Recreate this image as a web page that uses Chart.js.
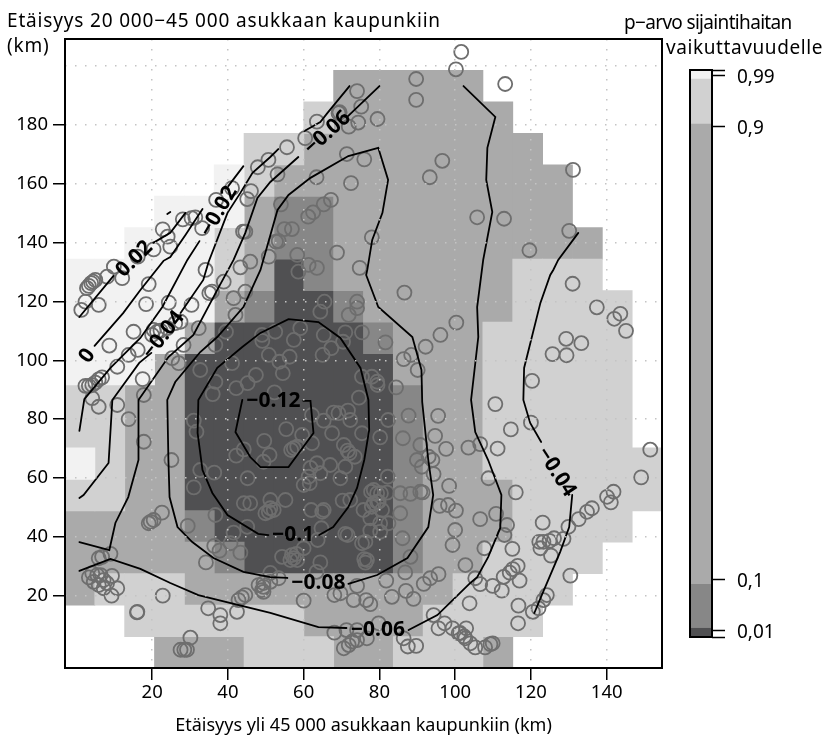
<!DOCTYPE html>
<html lang="fi">
<head>
<meta charset="UTF-8">
<title>p-arvo sijaintihaitan vaikuttavuudelle</title>
<script src="https://cdn.jsdelivr.net/npm/chart.js"></script>
<style>
  body { margin: 0; background: #fff; font-family: "Noto Sans", sans-serif; color: #000; }
  #page { position: relative; width: 830px; height: 735px; overflow: hidden; }
  canvas { position: absolute; top: 0; }
  .cap { position: absolute; font-size: 19px; line-height: 25px; white-space: nowrap; }
</style>
</head>
<body>
<div id="page">
  <canvas id="mapChart" width="830" height="735" style="left:0"></canvas>
  <canvas id="barChart" width="160" height="735" style="left:670px"></canvas>
  <div class="cap" style="left:7px;top:8px;letter-spacing:.83px">Etäisyys 20 000−45 000 asukkaan kaupunkiin<br>(km)</div>
  <div class="cap" style="left:624px;top:10px;letter-spacing:-.67px">p−arvo sijaintihaitan</div>
  <div class="cap" style="left:666px;top:35px;letter-spacing:.6px">vaikuttavuudelle</div>
</div>
<script>
// grid of the p-value map, row 0 is the top one. 0 = no cell, 1..5 = class in levelColors
const cellRows = [
  '00000000000000000000',
  '00000000033333000000',
  '00000000233333300000',
  '00000022333333330000',
  '00000123333333333000',
  '00011134433333333000',
  '00111234433333333300',
  '11111235433333322200',
  '11111345543333322220',
  '11113555554333222220',
  '11135555555333222220',
  '22335555555433222220',
  '22335555555433222220',
  '12335555555433222222',
  '22335555555433322222',
  '33334555555433322220',
  '33333455555433222200',
  '32223333333332222000',
  '00222222333322220000',
  '00033322233222300000'
];
const cellXEdges = [-3, 4.88, 12.76, 20.64, 28.52, 36.4, 44.28, 52.16, 60.04, 67.92, 75.8, 83.68, 91.56, 99.44, 107.32, 115.2, 123.08, 130.96, 138.84, 146.72, 154.6];
const cellYEdges = [209.2, 198.51, 187.82, 177.13, 166.44, 155.75, 145.06, 134.37, 123.68, 112.99, 102.3, 91.61, 80.92, 70.23, 59.54, 48.85, 38.16, 27.47, 16.78, 6.09, -4.6];
const levelColors = ['#f2f2f2', '#d1d1d1', '#aaaaaa', '#878787', '#505052'];

const xTicks = [20, 40, 60, 80, 100, 120, 140];
const yTicks = [20, 40, 60, 80, 100, 120, 140, 160, 180, 200];

// kunnat (x km, y km)
const towns = [
  [101.6,204.8],
  [47.9,165.6],[46.1,157.5],[45.1,154.8],[41.1,158.5],[36.9,154.5],[33.2,144.9],[31.4,148.6],[30.4,148.3],[28.1,147.9],[22.8,144.5],
  [24.1,142.0],[24.8,138.6],[20.4,137.7],[16.2,135.2],[9.9,131.8],[44.0,143.7],[44.6,143.7],[34.1,130.7],[43.3,131.6],[45.9,133.5],
  [50.8,135.2],[50.7,168.1],[100.2,198.9],[89.7,195.6],[89.7,188.5],[74.1,191.5],[75.2,186.2],[69.2,184.0],[69.5,184.3],[63.5,181.1],
  [71.9,179.4],[74.4,180.8],[79.5,182.0],[60.4,175.5],[55.6,172.4],[71.4,170.1],[76.0,168.3],[53.1,163.2],[63.4,162.2],[72.5,160.2],
  [96.6,167.8],[93.3,162.2],[54.0,153.0],[67.2,154.5],[65.3,153.0],[62.5,150.3],[61.2,148.8],[54.9,144.6],[56.9,144.6],[52.7,140.3],
  [53.4,140.5],[58.3,135.8],[78.0,141.8],[68.8,136.6],[61.3,132.4],[63.5,131.4],[74.8,131.4],[58.6,130.1],[113.2,193.9],[131.1,164.7],
  [105.8,148.6],[112.9,148.1],[130.1,144.0],[119.6,137.4],[12.1,127.9],[19.1,125.9],[8.1,128.4],[5.0,127.3],[4.4,126.7],[3.9,126.2],
  [3.3,125.3],[2.8,124.5],[5.9,118.8],[2.4,119.9],[1.3,117.1],[18.4,119.1],[24.4,119.6],[30.4,118.8],[35.1,122.8],[35.8,123.3],
  [38.9,126.7],[41.5,121.1],[44.6,123.3],[42.0,115.4],[27.5,113.1],[20.4,110.3],[21.3,109.7],[22.2,110.1],[20.0,108.6],[24.0,110.9],
  [26.1,112.6],[15.1,109.7],[8.7,105.0],[16.2,103.5],[13.8,101.8],[10.8,97.8],[32.3,110.9],[39.5,109.7],[36.7,105.2],[49.0,108.6],
  [28.3,105.2],[25.3,100.7],[27.0,99.0],[32.7,96.7],[41.1,99.0],[17.5,93.6],[6.8,94.2],[5.9,93.5],[5.0,92.4],[4.2,91.6],
  [3.3,91.3],[2.4,91.3],[4.2,87.1],[5.9,84.2],[10.8,84.8],[13.8,80.0],[17.8,88.2],[17.8,72.3],[25.1,66.1],[36.7,92.7],
  [36.0,88.5],[42.2,90.5],[45.2,92.2],[47.4,95.0],[31.0,79.5],[31.7,75.7],[49.6,72.6],[44.2,69.7],[42.2,67.6],[49.4,65.5],
  [86.6,123.0],[100.3,112.8],[96.1,108.6],[92.2,104.6],[88.4,101.8],[86.4,100.4],[90.1,96.7],[74.1,119.9],[74.1,117.7],[71.9,115.4],
  [65.5,119.9],[64.4,116.5],[75.4,109.5],[71.0,109.5],[65.3,108.6],[59.1,110.9],[52.5,109.7],[57.4,106.9],[81.6,106.1],[70.4,106.3],
  [67.3,104.1],[65.0,101.8],[56.3,101.2],[50.8,101.8],[53.6,99.5],[54.5,95.6],[49.1,106.6],[75.4,94.4],[78.0,94.4],[79.4,92.7],
  [79.5,91.6],[84.4,90.8],[74.6,87.3],[52.3,89.1],[62.2,81.4],[65.3,79.5],[67.9,82.2],[69.2,82.0],[71.7,82.9],[72.3,79.7],
  [82.3,79.7],[87.7,81.2],[95.5,81.1],[67.5,75.2],[75.4,75.2],[55.4,76.6],[59.6,74.6],[62.2,71.8],[80.2,73.8],[86.2,73.5],
  [94.7,74.3],[58.3,70.6],[57.4,70.1],[56.7,69.5],[70.6,71.2],[71.6,69.3],[72.1,68.4],[73.5,67.2],[51.0,67.8],[97.6,69.9],
  [103.5,70.3],[90.8,71.2],[89.9,66.1],[93.0,67.2],[94.0,66.1],[91.2,63.8],[63.5,65.0],[67.0,64.4],[71.0,63.8],[131.0,126.0],
  [137.4,118.0],[142.0,114.1],[143.6,115.8],[145.1,110.0],[129.3,107.3],[133.3,105.8],[125.7,102.1],[129.4,101.7],[120.3,93.0],[110.6,85.1],
  [120.0,78.8],[114.7,76.5],[106.6,71.5],[111.2,70.0],[151.5,69.6],[149.1,60.2],[141.8,55.3],[140.1,53.6],[141.1,51.7],[136.1,49.7],
  [134.8,48.5],[132.6,46.0],[129.9,43.4],[128.6,39.3],[126.1,39.5],[124.9,38.6],[123.3,38.3],[122.2,38.3],[122.5,36.1],[125.3,33.6],
  [123.1,44.8],[130.4,26.8],[116.0,55.1],[108.8,59.9],[110.8,47.8],[106.6,46.0],[113.7,44.0],[113.0,40.6],[107.7,36.1],[115.1,35.9],
  [102.7,30.4],[116.5,30.1],[115.2,29.0],[114.4,27.8],[112.8,26.4],[117.0,25.1],[112.3,21.7],[109.9,23.3],[106.6,23.9],[105.3,25.9],
  [103.8,17.4],[116.7,16.6],[124.2,20.2],[123.3,18.5],[122.0,15.7],[120.5,14.5],[116.6,10.6],[109.9,3.8],[109.3,3.5],[107.9,2.4],
  [105.3,2.4],[104.0,3.8],[102.7,5.5],[102.9,8.9],[101.3,7.3],[98.4,57.3],[95.9,50.5],[98.1,50.8],[100.2,48.9],[100.0,42.3],
  [99.3,37.2],[91.4,55.1],[90.8,55.3],[94.3,61.3],[88.2,54.6],[85.5,54.8],[82.0,55.0],[79.4,54.8],[77.8,55.3],[82.2,60.4],
  [85.5,48.0],[79.4,51.9],[75.8,49.1],[78.0,50.2],[80.7,49.1],[80.2,44.6],[82.4,44.6],[77.6,46.3],[77.6,42.1],[80.2,41.7],
  [86.1,39.5],[88.2,33.2],[86.8,27.9],[81.8,25.1],[71.0,41.0],[71.6,40.6],[76.3,38.3],[75.4,37.8],[76.0,32.4],[76.7,32.1],
  [76.3,31.2],[64.4,31.3],[63.4,28.1],[54.3,33.2],[56.9,33.8],[58.3,32.1],[57.4,32.7],[56.5,32.1],[60.0,36.1],[58.1,34.2],
  [63.7,38.9],[64.7,42.9],[62.0,49.1],[64.9,48.5],[65.3,49.1],[70.3,52.3],[72.3,52.5],[69.7,59.9],[60.0,57.6],[61.3,60.4],
  [61.8,63.4],[61.6,58.2],[64.4,61.6],[55.2,52.5],[51.2,52.5],[51.2,49.7],[52.1,49.1],[50.8,48.5],[49.9,48.0],[78.5,55.9],
  [80.4,54.8],[78.5,51.4],[79.8,51.9],[74.1,23.3],[68.1,20.2],[69.7,20.8],[60.0,18.3],[73.2,18.5],[76.5,18.5],[77.6,17.1],
  [83.3,19.6],[87.0,21.6],[89.0,18.9],[91.7,24.0],[93.4,25.9],[95.6,27.3],[94.3,13.4],[95.6,8.9],[97.2,10.6],[99.3,8.9],
  [100.9,7.2],[102.4,6.1],[68.1,7.4],[71.3,8.3],[74.1,8.3],[76.7,5.5],[79.8,10.6],[72.8,4.4],[74.1,4.9],[71.9,3.2],
  [70.6,2.1],[86.4,5.5],[87.5,2.7],[89.7,2.9],[49.4,24.3],[53.4,25.9],[51.2,24.7],[49.4,21.3],[32.7,62.7],[36.4,61.8],
  [31.0,56.8],[45.2,59.9],[44.2,51.4],[45.9,51.4],[36.7,47.4],[29.4,43.7],[22.6,48.2],[20.4,45.7],[19.6,45.1],[19.1,44.6],
  [45.1,43.4],[41.5,41.4],[36.4,36.9],[37.8,35.3],[40.7,37.8],[43.3,34.6],[34.2,31.3],[9.0,34.2],[6.8,33.2],[5.9,32.7],
  [3.3,26.2],[4.2,27.6],[5.5,27.0],[6.4,27.0],[7.2,25.3],[9.4,26.7],[4.6,24.7],[5.9,23.6],[8.1,24.2],[7.2,22.5],
  [10.8,22.5],[9.3,20.0],[22.8,20.0],[16.0,14.3],[16.1,14.5],[34.8,15.7],[38.0,13.4],[38.0,10.6],[42.4,14.5],[42.8,18.5],
  [44.6,20.2],[43.7,19.4],[48.1,23.6],[49.4,23.0],[49.0,21.9],[51.2,27.7],[30.1,5.7],[28.5,1.6],[27.5,1.6],[29.2,1.6]
];

// contour lines, null = break in the line where a label sits
const contour002 = [[0.8,114.7],[9.8,128.7],null,[20.3,139.9],[24.8,143.3],[28.8,150.1],null,[24.0,149.7],[24.8,150.4]];
const contour0 = [[4.8,104.9],[12.4,116.1],[16.9,123.9],[23.0,133.8],[24.8,135.1],[28.8,142.6],[33.3,151.4]];
const contourM002 = [[0.8,76.0],[2.1,86.8],[9.0,97.4],[16.9,107.6],[22.7,118.1],[29.3,134.1],[32.5,140.5],null,[40.1,159.2],[44.1,166.0]];
const contourM004 = [[0.8,53.2],[1.9,54.2],[8.5,65.1],[9.5,86.5],[16.6,99.1],[19.8,102.5],null,[27.5,116.1],[33.5,127.3],[34.9,133.4],[39.9,150.1],[43.3,156.9],[46.5,163.7],[51.2,169.1],[53.3,171.8],null,[60.2,177.9],[64.4,181.0],[66.3,184.1],[72.1,193.2]];
const contourM004b = [[132.5,143.3],[127.2,134.1],[125.9,130.7],[125.1,129.0],[122.5,119.5],[118.2,97.4],[118.0,86.5],[119.8,78.7],[122.7,72.2],null,[130.9,54.2],[130.1,43.3],[127.7,34.8],[123.2,21.2],[120.9,14.1]];
const contourM006 = [[0.8,38.2],[8.7,35.5],[10.3,44.7],[13.7,53.5],[16.4,66.1],[16.4,86.5],[24.3,101.1],[30.9,108.6],[37.2,123.9],[41.5,134.1],[44.6,143.3],[47.8,155.2],[51.2,160.6],[58.6,169.1],null,[71.5,182.7],[80.0,193.2]];
const contourM006b = [[0.8,28.4],[9.0,32.5],[16.9,29.1],[24.8,24.3],[32.2,20.2],[51.2,14.1],[63.9,9.3],[71.3,9.0],null,[87.7,8.3],[95.3,13.4],[104.0,24.3],[105.8,26.3],[108.7,33.1],[111.9,43.0],[112.2,54.2],[108.7,66.1],[105.3,75.6],[104.2,86.5],[106.1,107.9],[105.8,118.1],[107.4,134.1],[109.8,150.4],[108.2,161.3],[108.5,172.2],[110.6,182.7],[102.2,193.2]];
const contourM008 = [[55.7,26.0],[51.2,26.3],[44.1,28.1],[36.2,32.8],[30.6,38.2],[26.7,43.3],[24.6,53.5],[24.3,66.1],[24.0,86.5],[26.1,92.6],[32.7,102.8],[37.2,107.9],[44.1,118.1],[48.6,130.7],[53.1,151.1],[56.0,156.2],[61.8,162.0],[71.8,169.4],[79.7,172.2],[82.3,161.3],[80.8,150.1],[78.1,140.9],[76.8,130.7],[76.5,129.0],[79.7,118.1],[88.7,107.9],[91.1,96.7],[91.3,85.8],[92.9,66.1],[94.2,54.2],[92.9,43.3],[87.4,32.8],[79.4,27.0],[71.8,24.0]];
const contourM01 = [[50.7,40.6],[48.0,41.0],[39.9,47.4],[35.9,54.9],[33.3,62.7],[32.0,75.3],[32.2,86.5],[37.2,97.4],[43.8,104.5],[48.6,109.3],[56.0,114.0],[63.9,113.0],[69.7,107.6],[75.0,97.4],[77.1,86.5],[77.3,76.3],[76.0,66.1],[74.1,56.6],[71.8,50.1],[67.8,43.3],[64.1,40.6]];
const contourM012 = [[59.9,86.2],[61.8,86.2],[62.6,75.3],[56.0,63.7],[48.6,63.7],[45.9,67.1],[42.0,75.6],[43.8,86.5]];

const contourTexts = ['0', '0.02', '−0.02', '−0.04', '−0.06', '−0.04', '−0.12', '−0.1', '−0.08', '−0.06'];
const contourTextX = [2.9, 15.3, 37.6, 23.0, 66.3, 126.7, 52.0, 57.2, 63.9, 79.6];
const contourTextY = [101.5, 134.4, 150.6, 108.6, 177.3, 62.0, 86.2, 40.6, 24.3, 8.3];
const contourTextAngle = [-55, -45, -60, -52, -42, 57, 0, 0, 0, 0];

// colour key: height of each class on the key's own axis, bottom class first
const keySegments = [8.7, 44, 460, 45, 9];
const keyColors = ['#505052', '#878787', '#aaaaaa', '#d1d1d1', '#f2f2f2'];
const keyTicks = [0, 6, 57.7, 510, 561, 566.7];
const keyLabels = ['', '0,01', '0,1', '0,9', '0,99', ''];

const FONT = '"Noto Sans", sans-serif';

function cellDatasets() {
  const sets = levelColors.map(c => ({ type: 'bar', data: [], backgroundColor: c, order: 3,
    grouped: false, barPercentage: 1, categoryPercentage: 1, borderWidth: 0, inflateAmount: 0.4 }));
  for (let c = 0; c < 20; c++) {
    let r = 0;
    while (r < 20) {
      const lev = +cellRows[r][c];
      let end = r;
      while (end < 19 && +cellRows[end + 1][c] === lev) end++;
      if (lev > 0) {
        sets[lev - 1].data.push({
          x: (cellXEdges[c] + cellXEdges[c + 1]) / 2,
          y: [cellYEdges[end + 1], cellYEdges[r]]
        });
      }
      r = end + 1;
    }
  }
  return sets;
}

function contourDatasets(lines) {
  const out = [];
  lines.forEach(line => {
    let part = [];
    line.concat([null]).forEach(p => {
      if (p) { part.push({ x: p[0], y: p[1] }); return; }
      out.push({ type: 'line', data: part, borderColor: '#000', borderWidth: 1.8, pointRadius: 0,
        tension: 0, fill: false, order: 1, borderCapStyle: 'round' });
      part = [];
    });
  });
  return out;
}

const mapExtras = {
  id: 'mapExtras',
  afterDraw(chart) {
    const { ctx, chartArea: a, scales } = chart;
    ctx.save();
    ctx.strokeStyle = '#000';
    ctx.lineWidth = 2;
    ctx.strokeRect(a.left, a.top, a.right - a.left, a.bottom - a.top);
    ctx.fillStyle = '#000';
    ctx.font = 'bold 21px ' + FONT;
    ctx.textAlign = 'center';
    ctx.textBaseline = 'middle';
    contourTexts.forEach((t, i) => {
      ctx.save();
      ctx.translate(scales.x.getPixelForValue(contourTextX[i]), scales.y.getPixelForValue(contourTextY[i]));
      ctx.rotate(contourTextAngle[i] * Math.PI / 180);
      ctx.fillText(t, 0, 0);
      ctx.restore();
    });
    ctx.restore();
  }
};

new Chart(document.getElementById('mapChart'), {
  type: 'bar',
  data: {
    datasets: [
      ...cellDatasets(),
      { type: 'scatter', data: towns.map(p => ({ x: p[0], y: p[1] })), order: 2, pointRadius: 7,
        pointBorderWidth: 1.8, pointBorderColor: '#6e6e6e', pointBackgroundColor: 'transparent' },
      ...contourDatasets([contour002, contour0, contourM002, contourM004, contourM004b, contourM006, contourM006b, contourM008, contourM01, contourM012])
    ]
  },
  options: {
    responsive: false,
    animation: false,
    layout: { padding: { top: 39, right: 168, left: 0, bottom: 0 } },
    plugins: { legend: { display: false }, tooltip: { enabled: false } },
    scales: {
      x: {
        type: 'linear', min: -3, max: 154.6, offset: false,
        afterBuildTicks: s => { s.ticks = xTicks.map(v => ({ value: v })); },
        afterFit: s => { s.height = 67; },
        border: { display: false, dash: [1.5, 8.5] },
        grid: { z: 1, offset: false, color: '#c4c4c4', lineWidth: 1.5, tickColor: '#000', tickWidth: 1.5, tickLength: 12, tickBorderDash: [] },
        ticks: { color: '#000', font: { family: FONT, size: 18.5 }, padding: 2, maxRotation: 0, autoSkip: false },
        title: { display: true, text: 'Etäisyys yli 45 000 asukkaan kaupunkiin (km)', color: '#000', font: { family: FONT, size: 18 }, padding: { top: 0, bottom: -2 } }
      },
      y: {
        min: -4.6, max: 209.2,
        afterBuildTicks: s => { s.ticks = yTicks.map(v => ({ value: v })); },
        afterFit: s => { s.width = 65; },
        border: { display: false, dash: [1.5, 8.5] },
        grid: { z: 1, color: '#c4c4c4', lineWidth: 1.5,
          tickColor: c => (c.tick && c.tick.value === 200 ? 'transparent' : '#000'), tickWidth: 1.5, tickLength: 12, tickBorderDash: [] },
        ticks: { color: '#000', font: { family: FONT, size: 18.5 }, padding: 5, autoSkip: false,
          callback: v => (v === 200 ? '' : v) }
      }
    }
  },
  plugins: [mapExtras]
});

const keyBox = {
  id: 'keyBox',
  afterDraw(chart) {
    const { ctx, chartArea: a } = chart;
    ctx.save();
    ctx.strokeStyle = '#000';
    ctx.lineWidth = 2;
    ctx.strokeRect(a.left, a.top, a.right - a.left, a.bottom - a.top);
    ctx.restore();
  }
};

new Chart(document.getElementById('barChart'), {
  type: 'bar',
  data: {
    labels: [''],
    datasets: keySegments.map((v, i) => ({ data: [v], backgroundColor: keyColors[i], borderWidth: 0, barPercentage: 1, categoryPercentage: 1 }))
  },
  options: {
    responsive: false,
    animation: false,
    layout: { padding: { top: 70, bottom: 98, left: 20, right: 0 } },
    plugins: { legend: { display: false }, tooltip: { enabled: false } },
    scales: {
      x: { stacked: true, display: false },
      y: {
        stacked: true, position: 'right', min: 0, max: 566.7,
        afterBuildTicks: s => { s.ticks = keyTicks.map(v => ({ value: v })); },
        afterFit: s => { s.width = 118; },
        border: { display: false },
        grid: { drawOnChartArea: false, tickColor: '#000', tickWidth: 1.5, tickLength: 13 },
        ticks: { color: '#000', font: { family: FONT, size: 19 }, padding: 12, labelOffset: 2, autoSkip: false,
          callback: (v, i) => keyLabels[i] }
      }
    }
  },
  plugins: [keyBox]
});
</script>
</body>
</html>
